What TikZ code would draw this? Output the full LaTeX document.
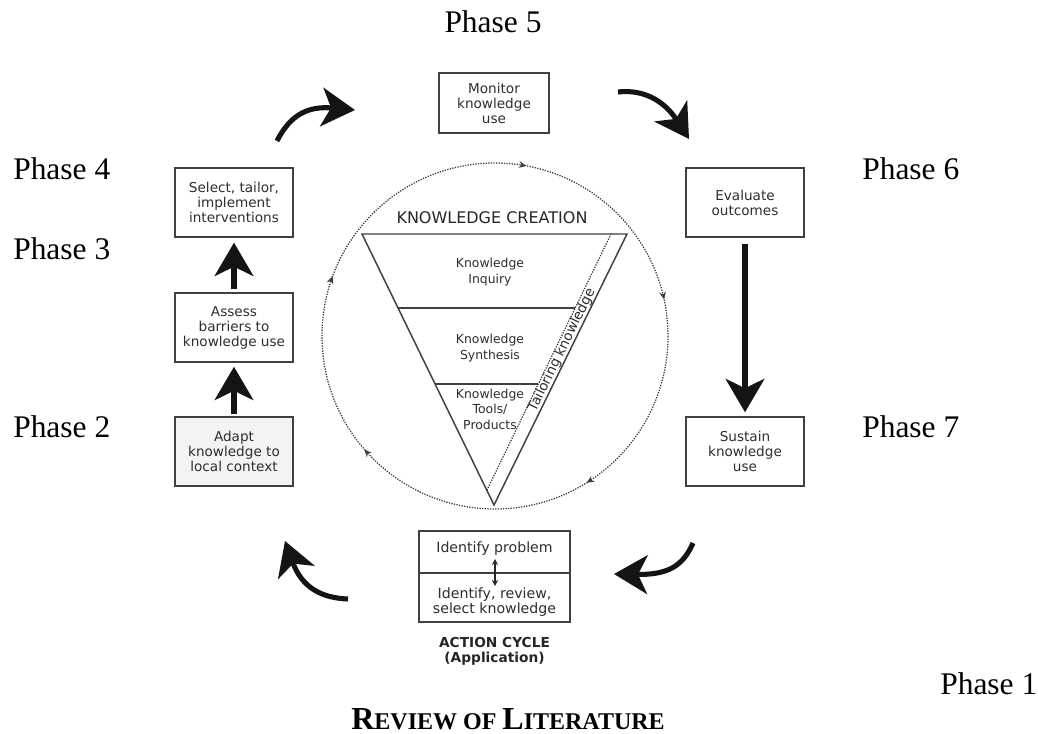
\documentclass[tikz,border=0pt]{standalone}
\usepackage{fontspec}
\setmainfont{Liberation Serif}
\newfontfamily\dvsans{DejaVu Sans}
\usetikzlibrary{arrows.meta,decorations.markings,calc}

\definecolor{boxline}{HTML}{404040}
\definecolor{boxtext}{HTML}{2E2E2E}
\definecolor{adaptfill}{HTML}{F3F3F3}
\definecolor{dotline}{HTML}{3A3A3A}

\tikzset{
  stagebox/.style={draw=boxline, line width=1.1pt, fill=white, text=boxtext,
    font=\dvsans\fontsize{10.2}{11.25}\selectfont, align=center, inner sep=0pt,
    minimum width=88.5pt, minimum height=51.75pt},
  phaselabel/.style={font=\fontsize{23.6}{24}\selectfont, inner sep=0pt, anchor=base west},
  bigarrow/.style={line width=3.8pt, draw=black!92,
    -{Stealth[length=25pt,width=29pt,inset=7pt]}},
  trianglabel/.style={text=boxtext, font=\dvsans\fontsize{9.3}{11.7}\selectfont,
    align=center, inner sep=0pt},
  triline/.style={draw=boxline, line width=1.1pt},
  circdots/.style={draw=dotline, line width=0.95pt, densely dotted},
}

\begin{document}
\begin{tikzpicture}[x=0.75pt,y=-0.75pt]
\useasboundingbox (0,0) rectangle (1038,734);
\fill[white] (0,0) rectangle (1038,734);

% Phase labels
\node[phaselabel, anchor=base] (p5) at (493,33) {Phase 5};
\node[phaselabel] (p4) at (13,180) {Phase 4};
\node[phaselabel] (p3) at (13,259) {Phase 3};
\node[phaselabel] (p2) at (13,437) {Phase 2};
\node[phaselabel] (p6) at (862,180) {Phase 6};
\node[phaselabel] (p7) at (862,437) {Phase 7};
\node[phaselabel] (p1) at (940,694) {Phase 1};
\node[inner sep=0pt, anchor=base] (rev) at (508,729)
  {\bfseries{\fontsize{24}{24}\selectfont R}{\fontsize{18}{18}\selectfont EVIEW OF }{\fontsize{24}{24}\selectfont L}{\fontsize{18}{18}\selectfont ITERATURE}};

% Dotted circle with arrow marks (clockwise on screen)
\coordinate (cc) at (495,336);
\draw[circdots, postaction={decorate}, decoration={markings,
    mark=at position 0.161 with {\arrow{Stealth[length=5.5pt,width=5pt]}},
    mark=at position 0.386 with {\arrow{Stealth[length=5.5pt,width=5pt]}},
    mark=at position 0.556 with {\arrow{Stealth[length=5.5pt,width=5pt]}},
    mark=at position 0.779 with {\arrow{Stealth[length=5.5pt,width=5pt]}},
    mark=at position 0.966 with {\arrow{Stealth[length=5.5pt,width=5pt]}}}]
  (cc) circle[radius=173];

% Knowledge creation funnel
\coordinate (t1) at (362,234);
\coordinate (t2) at (627,234);
\coordinate (t3) at (494,505);
\coordinate (d1) at (611,234);
\coordinate (d2) at (487,490);
\draw[triline, fill=white] (t1) -- (t2) -- (t3) -- cycle;
\draw[triline] (398,308) -- (575,308);
\draw[triline] (435,384) -- (538,384);
\draw[circdots] (d1) -- (d2);
\node[text=black!85, font=\dvsans\fontsize{12}{14}\selectfont, inner sep=0pt] (kc) at (492,218) {KNOWLEDGE CREATION};
\node[trianglabel] (kinq) at (490,272) {Knowledge\\Inquiry};
\node[trianglabel] (ksyn) at (490,348) {Knowledge\\Synthesis};
\node[trianglabel] (ktool) at (490,409) {Knowledge\\Tools/\\Products};
\node[text=boxtext, font=\dvsans\fontsize{10.2}{12}\selectfont, inner sep=0pt, rotate=63.85] (tail) at (562,350) {Tailoring knowledge};

% Action cycle boxes
\node[stagebox, minimum width=82.5pt, minimum height=45pt] (monitor) at (494,103) {Monitor\\knowledge\\use};
\node[stagebox] (select) at (234,202.5) {Select, tailor,\\implement\\interventions};
\node[stagebox] (assess) at (234,327.5) {Assess\\barriers to\\knowledge use};
\node[stagebox, fill=adaptfill] (adapt) at (234,451.5) {Adapt\\knowledge to\\local context};
\node[stagebox] (evaluate) at (745,202.5) {Evaluate\\outcomes};
\node[stagebox] (sustain) at (745,451.5) {Sustain\\knowledge\\use};

% Identify box
\node[stagebox, minimum width=113.25pt, minimum height=68.25pt] (idbox) at (494.5,576.5) {};
\draw[triline] (idbox.west |- 0,573) -- (idbox.east |- 0,573);
\node[text=boxtext, font=\dvsans\fontsize{10.6}{11.25}\selectfont, inner sep=0pt] (idprob) at (494.5,549) {Identify problem};
\node[text=boxtext, font=\dvsans\fontsize{10.6}{11.25}\selectfont, align=center, inner sep=0pt] (idrev) at (494.5,602.5) {Identify, review,\\select knowledge};
\coordinate (dA) at (495,559);
\coordinate (dB) at (495,586);
\draw[line width=0.8pt, draw=black!85, {Stealth[length=4.5pt,width=4.5pt]}-{Stealth[length=4.5pt,width=4.5pt]}] (dA) -- (dB);
\node[text=black!85, font=\dvsans\bfseries\fontsize{10.3}{11.25}\selectfont, align=center, inner sep=0pt] (action) at (494.5,651.5) {ACTION CYCLE\\(Application)};

% Straight thick arrows
\draw[bigarrow, shorten <=2pt, shorten >=3pt] (adapt.north) -- (assess.south);
\draw[bigarrow, shorten <=2.2pt, shorten >=3.7pt] (assess.north) -- (select.south);
\draw[bigarrow, shorten <=4.5pt, shorten >=3pt] (evaluate.south) -- (sustain.north);

% Curved thick arrows
\coordinate (a1s) at (277,141);
\coordinate (a1e) at (355,110);
\draw[bigarrow] (a1s) .. controls (291,113) and (310,106) .. (a1e);
\coordinate (a2s) at (618,92);
\coordinate (a2e) at (689,139);
\draw[bigarrow] (a2s) .. controls (645,89) and (665,102) .. (a2e);
\coordinate (a3s) at (693,543);
\coordinate (a3e) at (614,574);
\draw[bigarrow] (a3s) .. controls (683,566) and (668,575) .. (a3e);
\coordinate (a4s) at (348,599);
\coordinate (a4e) at (285,541);
\draw[bigarrow] (a4s) .. controls (322,598) and (302,588) .. (a4e);
\end{tikzpicture}
\end{document}
